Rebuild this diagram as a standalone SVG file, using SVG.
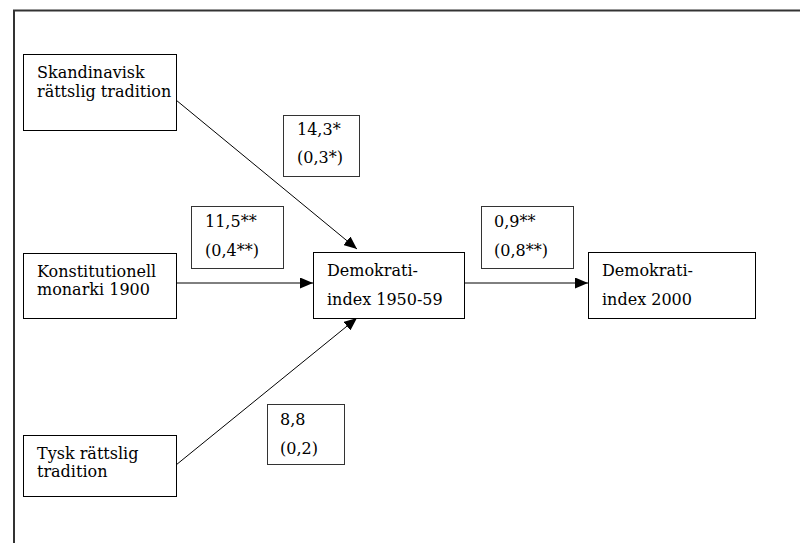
<svg xmlns="http://www.w3.org/2000/svg" width="800" height="543" viewBox="0 0 800 543">
<style>
.box{fill:#fff;stroke:#000;stroke-width:1}
.lbl{fill:#fff;stroke:#333;stroke-width:1}
text{font-family:"DejaVu Serif","Liberation Serif",serif;font-size:16px;fill:#000}
.c{stroke:#000;stroke-width:1;fill:none;marker-end:url(#ah)}
</style>
<defs>
<marker id="ah" markerWidth="13" markerHeight="11" refX="13" refY="5.5" orient="auto" markerUnits="userSpaceOnUse">
<path d="M0,0 L13,5.5 L0,11 Z" fill="#000"/>
</marker>
</defs>
<rect width="800" height="543" fill="#fff"/>
<g id="frame">
<path d="M14,543 V10.5 H800" fill="none" stroke="#333" stroke-width="2"/>
</g>
<g id="connectors">
<line class="c" x1="176" y1="100" x2="357" y2="249"/>
<line class="c" x1="176" y1="283" x2="313" y2="283"/>
<line class="c" x1="176" y1="465" x2="357" y2="318"/>
<line class="c" x1="464" y1="283" x2="588" y2="283"/>
</g>
<g id="skand">
<rect class="box" x="23.5" y="54.5" width="153" height="76"/>
<text x="37" y="78">Skandinavisk</text>
<text x="37" y="97">rättslig tradition</text>
</g>
<g id="konst">
<rect class="box" x="23.5" y="253.5" width="153" height="65"/>
<text x="37" y="277">Konstitutionell</text>
<text x="37" y="295">monarki 1900</text>
</g>
<g id="tysk">
<rect class="box" x="23.5" y="435.5" width="153" height="61"/>
<text x="37" y="459">Tysk rättslig</text>
<text x="37" y="477">tradition</text>
</g>
<g id="demo5059">
<rect class="box" x="313.5" y="252.5" width="151" height="66"/>
<text x="327" y="276">Demokrati-</text>
<text x="327" y="305">index 1950-59</text>
</g>
<g id="demo2000">
<rect class="box" x="588.5" y="252.5" width="167" height="66"/>
<text x="602" y="276">Demokrati-</text>
<text x="602" y="305">index 2000</text>
</g>
<g id="l143">
<rect class="lbl" x="283.5" y="115.5" width="76" height="61"/>
<text x="297" y="135">14,3*</text>
<text x="297" y="163">(0,3*)</text>
</g>
<g id="l115">
<rect class="lbl" x="191.5" y="206.5" width="92" height="62"/>
<text x="205" y="227">11,5**</text>
<text x="205" y="256">(0,4**)</text>
</g>
<g id="l09">
<rect class="lbl" x="481.5" y="206.5" width="92" height="62"/>
<text x="494" y="227">0,9**</text>
<text x="494" y="256">(0,8**)</text>
</g>
<g id="l88">
<rect class="lbl" x="267.5" y="404.5" width="77" height="60"/>
<text x="280" y="425">8,8</text>
<text x="280" y="454">(0,2)</text>
</g>
</svg>
